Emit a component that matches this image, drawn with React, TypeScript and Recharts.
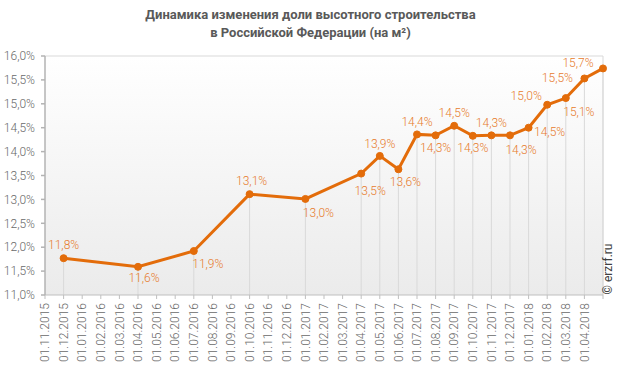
import React from 'react';
import { LineChart, Line, XAxis, YAxis, CartesianGrid, ReferenceLine, LabelList } from 'recharts';

const MONTHS = [
  '01.11.2015', '01.12.2015', '01.01.2016', '01.02.2016', '01.03.2016', '01.04.2016',
  '01.05.2016', '01.06.2016', '01.07.2016', '01.08.2016', '01.09.2016', '01.10.2016',
  '01.11.2016', '01.12.2016', '01.01.2017', '01.02.2017', '01.03.2017', '01.04.2017',
  '01.05.2017', '01.06.2017', '01.07.2017', '01.08.2017', '01.09.2017', '01.10.2017',
  '01.11.2017', '01.12.2017', '01.01.2018', '01.02.2018', '01.03.2018', '01.04.2018',
  '01.05.2018',
];
const UNLABELLED_MONTH = '01.05.2018';

const POINT_MONTHS = [
  '01.12.2015', '01.04.2016', '01.07.2016', '01.10.2016', '01.01.2017', '01.04.2017',
  '01.05.2017', '01.06.2017', '01.07.2017', '01.08.2017', '01.09.2017', '01.10.2017',
  '01.11.2017', '01.12.2017', '01.01.2018', '01.02.2018', '01.03.2018', '01.04.2018',
  '01.05.2018',
];
const SHARE = [
  11.77, 11.59, 11.92, 13.11, 13.01, 13.54,
  13.91, 13.63, 14.36, 14.34, 14.54, 14.33,
  14.34, 14.34, 14.5, 14.98, 15.12, 15.53,
  15.74,
];
const Y_TICKS = [11, 11.5, 12, 12.5, 13, 13.5, 14, 14.5, 15, 15.5, 16];

// label placement (dx, dy of label centre relative to its point)
const LABEL_OFFSETS = [
  [0, -13], [6, 11], [14, 13], [2, -13], [13, 14], [9, 17],
  [0, -12], [7, 13], [0, -13], [0, 12], [0, -13], [0, 12],
  [0, -13], [11, 14], [21, 4], [-21, -9], [13, 14], [-27, -1],
  [-25, -6],
];

const TITLE_1 = 'Динамика изменения доли высотного строительства';
const TITLE_2 = 'в Российской Федерации (на м²)';
const COPYRIGHT = '© erzrf.ru';

const ORANGE = '#E36C0A';
const LABEL_ORANGE = '#E77B2C';
const FONT = 'Roboto, "Noto Sans", sans-serif';
const TICK_GRAY = '#696969';

const data = MONTHS.map((m) => {
  const i = POINT_MONTHS.indexOf(m);
  return { month: m, share: i >= 0 ? SHARE[i] : null };
});

const fmt = (v: number) => v.toFixed(1).replace('.', ',') + '%';

const XTick = (props: any) => {
  const { x, y, payload } = props;
  const label = payload.value === UNLABELLED_MONTH ? '' : payload.value;
  return (
    <g transform={`translate(${x},${y})`}>
      <text
        transform="rotate(-90)"
        x={-2}
        y={0}
        dy="0.35em"
        textAnchor="end"
        fill={TICK_GRAY}
        fontSize={12}
        fontWeight={300}
        fontFamily={FONT}
      >
        {label}
      </text>
    </g>
  );
};

const PointLabel = (props: any) => {
  const { x, y, value, index } = props;
  if (value == null || y == null) return null;
  const pi = POINT_MONTHS.indexOf(MONTHS[index]);
  const off = LABEL_OFFSETS[pi] || [0, -12];
  return (
    <text
      x={x + off[0]}
      y={y + off[1]}
      dy="0.35em"
      textAnchor="middle"
      fill={LABEL_ORANGE}
      fontSize={12}
      fontWeight={300}
      fontFamily={FONT}
    >
      {fmt(value)}
    </text>
  );
};

export default function App() {
  return (
    <div style={{ position: 'absolute', left: 0, top: 0, width: 621, height: 375, background: '#fff' }}>
      <div
        style={{
          position: 'absolute',
          top: 6,
          left: 0,
          width: 621,
          textAlign: 'center',
          fontFamily: FONT,
          fontWeight: 'bold',
          fontSize: 13,
          lineHeight: '18px',
          color: '#595959',
        }}
      >
        <div>{TITLE_1}</div>
        <div>{TITLE_2}</div>
      </div>
      <LineChart
        width={621}
        height={375}
        data={data}
        margin={{ top: 56, right: 18, bottom: 0, left: 0 }}
      >
        <defs>
          <linearGradient id="plotBg" x1="0" y1="0" x2="0" y2="1">
            <stop offset="0%" stopColor="#ffffff" />
            <stop offset="100%" stopColor="#ebebeb" />
          </linearGradient>
        </defs>
        <CartesianGrid horizontal={false} vertical={false} fill="url(#plotBg)" />
        <XAxis
          dataKey="month"
          type="category"
          interval={0}
          height={80}
          tickSize={4}
          tickMargin={2}
          tick={<XTick />}
          stroke="#bfbfbf"
          padding={{ left: 0, right: 0 }}
        />
        <YAxis
          domain={[11, 16]}
          ticks={Y_TICKS}
          interval={0}
          width={45}
          tickSize={4}
          tickMargin={6}
          tickFormatter={fmt}
          stroke="#b3b3b3"
          strokeWidth={1.5}
          tick={{ fill: TICK_GRAY, fontSize: 12, fontWeight: 300, fontFamily: FONT }}
        />
        <ReferenceLine y={16} stroke="#d9d9d9" />
        <ReferenceLine x={UNLABELLED_MONTH} stroke="#d9d9d9" />
        {POINT_MONTHS.map((m, i) => (
          <ReferenceLine
            key={m}
            segment={[{ x: m, y: 11 }, { x: m, y: SHARE[i] }]}
            stroke="#d9d9d9"
          />
        ))}
        <Line
          dataKey="share"
          stroke={ORANGE}
          strokeWidth={3}
          connectNulls
          dot={{ r: 3.5, fill: ORANGE, stroke: ORANGE, strokeWidth: 1 }}
          activeDot={false}
          isAnimationActive={false}
        >
          <LabelList dataKey="share" content={<PointLabel />} />
        </Line>
      </LineChart>
      <div
        style={{
          position: 'absolute',
          left: 608,
          top: 269,
          transform: 'translate(-50%, -50%) rotate(-90deg)',
          fontFamily: FONT,
          fontSize: 12,
          whiteSpace: 'nowrap',
          color: '#404040',
        }}
      >
        {COPYRIGHT}
      </div>
    </div>
  );
}
